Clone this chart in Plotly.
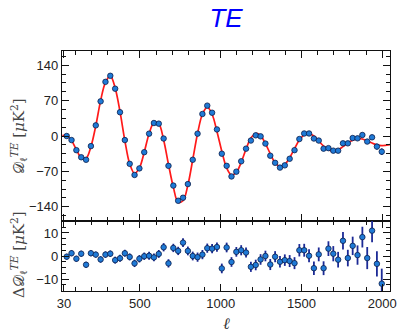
import plotly.graph_objects as go
from plotly.subplots import make_subplots

# ---- data ----
ell = [47, 77, 107, 137, 167, 197, 227, 257, 287, 317, 347, 377, 407, 437, 467,
       497, 527, 557, 587, 617, 647, 677, 707, 737, 767, 797, 827, 857, 887, 917,
       947, 977, 1007, 1037, 1067, 1097, 1127, 1157, 1187, 1217, 1247, 1277, 1307,
       1337, 1367, 1397, 1427, 1457, 1487, 1517, 1547, 1577, 1607, 1637, 1667,
       1697, 1727, 1757, 1787, 1817, 1847, 1877, 1907, 1937, 1967, 1997]

dte = [0, -8, -28, -42, -47, -20, 21, 68.5, 107, 119, 93.5, 47, -8, -55, -77,
       -64, -32, 4.6, 25.7, 24.4, -5, -59, -98, -128, -122, -95, -47, 4.6, 43.5, 60,
       46, 13, -35, -59, -80, -70.5, -50, -25, -9, 1.3, -0.7, -15, -39,
       -53, -62.5, -58, -45, -28, -6, 5, 5, -5, -9, -25, -24,
       -29, -29, -14.5, -14.5, -4, -4.6, 2, -11, -2.6, -21, -31]

resid = [-0.3, 1.2, -1.2, 1.0, -3.8, 1.2, 0.6, -1.5, 0.6, 1.0, -1.8, -1.0, 1.2, -0.4, -3.2,
         -1.2, -0.1, 0.1, -0.6, 0.9, 3.8, -3.2, 3.5, 2.2, 5.8, 2.2, 0.0, -0.5, 0.6, 3.4,
         3.2, 3.9, -5.4, 3.7, -2.6, 1.8, 2.5, 1.5, -4.7, -3.9, -1.5, 0.0, -3.7,
         -0.3, -2.5, -1.8, -2.2, -3.1, 2.5, 2.5, 0.1, -5.3, 0.7, -5.3, 3.2,
         1.0, -1.6, 6.6, -0.9, 4.4, 0.4, 8.2, -0.9, 11.0, -3.4, -12.0]

sigma = [1.3, 1.3, 1.3, 1.3, 1.3, 1.3, 1.3, 1.4, 1.4, 1.4, 1.5, 1.5, 1.5, 1.5, 1.6,
         1.6, 1.6, 1.7, 1.7, 1.7, 1.8, 1.8, 1.8, 1.8, 1.9, 1.9, 1.9, 2.0, 2.0, 2.0,
         2.0, 2.0, 2.1, 2.1, 2.1, 2.1, 2.2, 2.2, 2.2, 2.3, 2.3, 2.3, 2.4,
         2.4, 2.5, 2.5, 2.6, 2.6, 2.7, 2.8, 2.8, 2.9, 3.0, 3.0, 3.2,
         3.3, 3.4, 3.8, 3.6, 4.0, 4.2, 4.5, 4.8, 5.0, 5.5, 6.5]

ell_model = [20, 47, 77, 107, 137, 167, 197, 227, 257, 287, 317, 347, 377, 407, 437, 467,
             497, 527, 557, 587, 617, 647, 677, 707, 737, 767, 797, 827, 857, 887, 917,
             947, 977, 1007, 1037, 1067, 1097, 1127, 1157, 1187, 1217, 1247, 1277, 1307,
             1337, 1367, 1397, 1427, 1457, 1487, 1517, 1547, 1577, 1607, 1637, 1667,
             1697, 1727, 1757, 1787, 1817, 1847, 1877, 1907, 1937, 1967, 1997, 2050]
dte_model = [1, 0.3, -9, -27, -43, -44, -21, 20, 70, 106, 119, 95, 48, -9, -55, -74,
             -63, -32, 4.5, 26, 24, -8, -56, -101, -131, -128, -97, -47, 5, 43, 57,
             43, 9, -30, -63, -77, -72, -52, -26, -4, 5, 1, -15, -35,
             -53, -60, -56, -43, -25, -8, 2.5, 5, 0, -10, -20, -27,
             -30, -27.5, -21, -13.6, -8.4, -5, -6, -10, -14, -17.6, -19, -17]

x_ticks = [30, 500, 1000, 1500, 2000]
x_minor = [100, 200, 300, 400, 600, 700, 800, 900, 1100, 1200, 1300, 1400,
           1600, 1700, 1800, 1900]
y_top_ticks = [-140, -70, 0, 70, 140]
y_bot_ticks = [-10, 0, 10]

# ---- style ----
MARK = '#1f7ad6'
EDGE = '#0b1d4a'
ERR = '#1c2a96'
AXC = '#111111'
TICKF = dict(family='Liberation Sans, Arial, sans-serif', size=13, color='#222222')
LABF = dict(family='DejaVu Serif', size=15, color='#444444')

fig = make_subplots(rows=2, cols=1, shared_xaxes=True, vertical_spacing=0,
                    row_heights=[170, 70])

fig.add_trace(go.Scatter(x=ell_model, y=dte_model, mode='lines',
                         line=dict(color='#ff1a1a', width=1.7, shape='spline'),
                         showlegend=False, hoverinfo='skip'), row=1, col=1)
fig.add_trace(go.Scatter(x=ell, y=dte, mode='markers',
                         marker=dict(size=5.5, color=MARK, line=dict(color=EDGE, width=0.8)),
                         error_y=dict(type='data', array=sigma, color=ERR, thickness=1.8, width=0),
                         showlegend=False), row=1, col=1)

fig.add_hline(y=0, line=dict(color='#ff1a1a', width=1.5), row=2, col=1)
fig.add_trace(go.Scatter(x=ell, y=resid, mode='markers',
                         marker=dict(size=5.5, color=MARK, line=dict(color=EDGE, width=0.8)),
                         error_y=dict(type='data', array=sigma, color=ERR, thickness=1.8, width=0),
                         showlegend=False), row=2, col=1)

common_x = dict(range=[18, 2048], showline=True, linecolor=AXC, linewidth=1.3, mirror='allticks',
                ticks='inside', ticklen=7, tickcolor=AXC, tickwidth=1, showgrid=False, zeroline=False,
                tickmode='array', tickvals=x_ticks, automargin=False,
                minor=dict(tickmode='array', tickvals=x_minor, ticks='inside', ticklen=4, tickcolor=AXC))
fig.update_xaxes(**common_x, showticklabels=False, row=1, col=1)
fig.update_xaxes(**common_x, showticklabels=True, tickfont=TICKF, row=2, col=1)

common_y = dict(showline=True, linecolor=AXC, linewidth=1.3, mirror='allticks',
                ticks='inside', ticklen=7, tickcolor=AXC, showgrid=False, zeroline=False,
                tickmode='array', tickfont=TICKF, automargin=False)
fig.update_yaxes(**common_y, range=[-168, 168], tickvals=y_top_ticks,
                 minor=dict(dtick=17.5, tick0=0, ticks='inside', ticklen=4, tickcolor=AXC),
                 row=1, col=1)
fig.update_yaxes(**common_y, range=[-15.2, 15.2], tickvals=y_bot_ticks,
                 minor=dict(dtick=2.5, tick0=0, ticks='inside', ticklen=4, tickcolor=AXC),
                 row=2, col=1)

fig.add_annotation(text='𝒟<sub>ℓ</sub><sup><i>TE</i></sup> [<i>μ</i>K<sup>2</sup>]',
                   xref='paper', yref='paper', x=-0.134, y=0.645, xanchor='center', yanchor='middle',
                   textangle=-90, showarrow=False, font=LABF)
fig.add_annotation(text='Δ𝒟<sub>ℓ</sub><sup><i>TE</i></sup> [<i>μ</i>K<sup>2</sup>]',
                   xref='paper', yref='paper', x=-0.134, y=0.15, xanchor='center', yanchor='middle',
                   textangle=-90, showarrow=False, font=LABF)
fig.add_annotation(text='<i>ℓ</i>', xref='paper', yref='paper', x=0.5, y=-0.135,
                   xanchor='center', yanchor='middle', showarrow=False,
                   font=dict(family='DejaVu Serif', size=16, color='#333333'))

fig.update_layout(
    width=397, height=332,
    margin=dict(l=62, r=7, t=51, b=41, autoexpand=False),
    paper_bgcolor='white', plot_bgcolor='white',
    title=dict(text='<i>TE</i>', x=0.5, xref='paper', xanchor='center', y=0.945, yanchor='middle',
               font=dict(family='Liberation Sans, Arial, sans-serif', size=26, color='#0000ff')),
    showlegend=False,
)

fig.write_html('out.html', config={'displayModeBar': False},
               post_script="document.body.style.margin='0px';document.body.style.padding='0px';")
